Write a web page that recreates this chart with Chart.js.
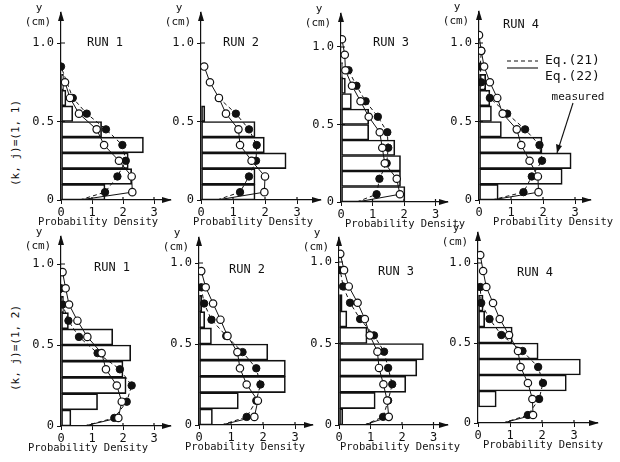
<!DOCTYPE html>
<html>
<head>
<meta charset="utf-8">
<script src="https://cdn.jsdelivr.net/npm/chart.js@4.4.1/dist/chart.umd.min.js"></script>
<style>
  body { margin: 0; background: #fff; }
  #wrap { position: relative; width: 620px; height: 462px; overflow: hidden; background: #fff; }
  #wrap canvas { position: absolute; }
  .rowlab { position: absolute; font: 11px 'DejaVu Sans Mono', monospace; color: #111;
            white-space: nowrap; transform: translate(-50%, -50%) rotate(-90deg); }
</style>
</head>
<body>
<div id="wrap"></div>
<script>
// valeurs (8 panneaux : 4 runs x 2 lignes)
const runNames = ['RUN 1', 'RUN 2', 'RUN 3', 'RUN 4', 'RUN 1', 'RUN 2', 'RUN 3', 'RUN 4'];
const rowLabels = ['(k, j)=(1, 1)', '(k, j)=(1, 2)'];
const xTicks = [0, 1, 2, 3];
const yTicks = [0, 0.5, 1.0];

// centres des classes de l'histogramme mesuré (cm)
const binMid = [0.05, 0.15, 0.25, 0.35, 0.45, 0.55, 0.65, 0.75, 0.85];
const measured = [
  [1.42, 2.28, 2.17, 2.66, 1.31, 0.38, 0.16, 0.08],
  [1.69, 1.69, 2.66, 1.98, 1.69, 0.12],
  [2.03, 1.89, 1.89, 1.71, 0.88, 0.88, 0.33, 0.14, 0.05],
  [0.60, 2.60, 2.88, 1.97, 0.70, 0.39, 0.34, 0.21],
  [0.32, 1.18, 2.10, 2.00, 2.25, 1.67, 0.24, 0.08],
  [0.42, 1.23, 2.70, 2.70, 2.15, 0.39, 0.18, 0.09],
  [0.12, 1.15, 2.12, 2.47, 2.68, 0.89, 0.25, 0.10],
  [0.00, 0.57, 2.76, 3.20, 1.88, 1.07, 0.21, 0.16]
];

// Eq.(21) : cercles pleins, tirets
const eq21Y = [
  [0.05, 0.15, 0.25, 0.35, 0.45, 0.55, 0.65, 0.85],
  [0.05, 0.15, 0.25, 0.35, 0.45, 0.55, 0.65],
  [0.05, 0.15, 0.25, 0.35, 0.45, 0.55, 0.65, 0.75, 0.85],
  [0.05, 0.15, 0.25, 0.35, 0.45, 0.55, 0.65, 0.75, 0.85, 0.95],
  [0.05, 0.15, 0.25, 0.35, 0.45, 0.55, 0.65, 0.75, 0.85],
  [0.05, 0.15, 0.25, 0.35, 0.45, 0.55, 0.65, 0.75, 0.85],
  [0.05, 0.15, 0.25, 0.35, 0.45, 0.55, 0.65, 0.75, 0.85, 0.95],
  [0.05, 0.15, 0.25, 0.35, 0.45, 0.55, 0.65, 0.75, 0.85]
];
const eq21X = [
  [1.42, 1.82, 2.09, 1.98, 1.45, 0.83, 0.38, 0.00],
  [1.22, 1.50, 1.72, 1.74, 1.50, 1.09, 0.56],
  [1.13, 1.22, 1.45, 1.50, 1.47, 1.17, 0.78, 0.49, 0.24],
  [1.39, 1.65, 1.97, 1.89, 1.44, 0.88, 0.34, 0.07, 0.04, 0.07],
  [1.72, 2.12, 2.28, 1.90, 1.18, 0.58, 0.24, 0.05, 0.00],
  [1.49, 1.79, 1.92, 1.79, 1.36, 0.85, 0.39, 0.16, 0.07],
  [1.40, 1.56, 1.69, 1.56, 1.43, 1.11, 0.67, 0.35, 0.13, 0.04],
  [1.56, 1.91, 2.03, 1.88, 1.39, 0.73, 0.36, 0.10, 0.07]
];

// Eq.(22) : cercles vides, trait plein
const eq22Y = [
  [0.05, 0.15, 0.25, 0.35, 0.45, 0.55, 0.65, 0.75],
  [0.05, 0.15, 0.25, 0.35, 0.45, 0.55, 0.65, 0.75, 0.85],
  [0.05, 0.15, 0.25, 0.35, 0.45, 0.55, 0.65, 0.75, 0.85, 0.95, 1.05],
  [0.05, 0.15, 0.25, 0.35, 0.45, 0.55, 0.65, 0.75, 0.85, 0.95, 1.05],
  [0.05, 0.15, 0.25, 0.35, 0.45, 0.55, 0.65, 0.75, 0.85, 0.95],
  [0.05, 0.15, 0.25, 0.35, 0.45, 0.55, 0.65, 0.75, 0.85, 0.95],
  [0.05, 0.15, 0.25, 0.35, 0.45, 0.55, 0.65, 0.75, 0.85, 0.95, 1.05],
  [0.05, 0.15, 0.25, 0.35, 0.45, 0.55, 0.65, 0.75, 0.85, 0.95, 1.05]
];
const eq22X = [
  [2.30, 2.28, 1.87, 1.39, 1.15, 0.58, 0.29, 0.13],
  [1.98, 2.00, 1.58, 1.22, 1.17, 0.78, 0.56, 0.28, 0.10],
  [1.87, 1.77, 1.39, 1.31, 1.23, 0.88, 0.62, 0.35, 0.14, 0.12, 0.03],
  [1.86, 1.84, 1.58, 1.32, 1.18, 0.74, 0.57, 0.34, 0.16, 0.07, 0.00],
  [1.85, 1.96, 1.80, 1.45, 1.31, 0.85, 0.53, 0.26, 0.15, 0.05],
  [1.73, 1.84, 1.49, 1.28, 1.20, 0.89, 0.67, 0.44, 0.21, 0.07],
  [1.58, 1.53, 1.41, 1.27, 1.22, 0.98, 0.82, 0.59, 0.31, 0.16, 0.04],
  [1.72, 1.70, 1.56, 1.33, 1.25, 0.97, 0.68, 0.47, 0.26, 0.16, 0.07]
];
// point où les deux courbes rejoignent la paroi (y = 0)
const wallX = [0.6, 0.5, 0.5, 0.4, 0.75, 0.7, 0.8, 0.78];

// mise en page (pixels de la page) : origine, échelles, bout des flèches, textes
const AXIS_W = 50, PAD_TOP = 12, AXIS_H = 34;
const panels = [
  { ox: 61,  oy: 200, sx: 31,   sy: 157, top: 13,  tip: 170, right: 200, run: [105, 43],  pd: 98 },
  { ox: 201, oy: 200, sx: 32,   sy: 157, top: 13,  tip: 320, right: 340, run: [241, 43],  pd: 253 },
  { ox: 341, oy: 202, sx: 31.5, sy: 155, top: 14,  tip: 447, right: 475, run: [391, 43],  pd: 405 },
  { ox: 479, oy: 200, sx: 32,   sy: 157, top: 12,  tip: 590, right: 620, run: [521, 25],  pd: 553, legend: true },
  { ox: 61,  oy: 426, sx: 31,   sy: 162, top: 237, tip: 170, right: 200, run: [112, 268], pd: 88 },
  { ox: 199, oy: 425, sx: 32,   sy: 162, top: 238, tip: 312, right: 340, run: [247, 270], pd: 245 },
  { ox: 339, oy: 425, sx: 31.5, sy: 163, top: 238, tip: 447, right: 475, run: [396, 272], pd: 400 },
  { ox: 478, oy: 423, sx: 32,   sy: 160, top: 233, tip: 597, right: 620, run: [535, 273], pd: 543 }
];

const INK = '#111';
const FONT = "'DejaVu Sans Mono', monospace";
Chart.defaults.font.family = FONT;
Chart.defaults.color = INK;

// textes, flèches des axes et légende
const decoPlugin = {
  id: 'deco',
  afterDraw(chart, args, opts) {
    const p = opts.panel;
    const ctx = chart.ctx;
    const { left, top, right, bottom } = chart.chartArea;
    const offX = p.ox - AXIS_W, offY = p.top - PAD_TOP;
    ctx.save();
    ctx.fillStyle = INK;
    ctx.strokeStyle = INK;
    ctx.lineWidth = 1.2;

    // pointes de flèches
    ctx.beginPath();
    ctx.moveTo(left, top - 2); ctx.lineTo(left - 3, top + 8); ctx.lineTo(left + 3, top + 8); ctx.closePath();
    ctx.fill();
    ctx.beginPath();
    ctx.moveTo(right + 2, bottom); ctx.lineTo(right - 8, bottom - 3); ctx.lineTo(right - 8, bottom + 3); ctx.closePath();
    ctx.fill();

    // petites graduations vers l'intérieur
    const xs = chart.scales.x, ys = chart.scales.y;
    ctx.beginPath();
    xTicks.slice(1).forEach(v => { const px = xs.getPixelForValue(v); ctx.moveTo(px, bottom); ctx.lineTo(px, bottom - 3); });
    yTicks.slice(1).forEach(v => { const py = ys.getPixelForValue(v); ctx.moveTo(left, py); ctx.lineTo(left + 4, py); });
    ctx.stroke();

    ctx.textBaseline = 'middle';
    ctx.textAlign = 'center';
    ctx.font = '11px ' + FONT;
    ctx.fillText('y', left - 22, top - 5);
    ctx.fillText('(cm)', left - 23, top + 9);
    ctx.font = '12px ' + FONT;
    ctx.fillText(opts.run, p.run[0] - offX, p.run[1] - offY);
    ctx.font = '10.5px ' + FONT;
    ctx.fillText('Probability Density', p.pd - offX, p.oy + 22 - offY);

    if (p.legend) {
      ctx.lineWidth = 1.1;
      ctx.setLineDash([4, 3]);
      ctx.beginPath(); ctx.moveTo(507 - offX, 61 - offY); ctx.lineTo(538 - offX, 61 - offY); ctx.stroke();
      ctx.setLineDash([]);
      ctx.beginPath(); ctx.moveTo(507 - offX, 68 - offY); ctx.lineTo(538 - offX, 68 - offY); ctx.stroke();
      ctx.textAlign = 'left';
      ctx.font = '13px ' + FONT;
      ctx.fillText('Eq.(21)', 545 - offX, 61 - offY);
      ctx.fillText('Eq.(22)', 545 - offX, 77 - offY);
      ctx.textAlign = 'center';
      ctx.font = '11px ' + FONT;
      ctx.fillText('measured', 578 - offX, 97 - offY);
      // flèche vers l'histogramme
      const ax = 557 - offX, ay = 153 - offY;
      ctx.beginPath(); ctx.moveTo(573 - offX, 103 - offY); ctx.lineTo(ax, ay); ctx.stroke();
      ctx.beginPath();
      ctx.moveTo(ax, ay); ctx.lineTo(ax - 1, ay - 9); ctx.lineTo(ax + 5, ay - 7); ctx.closePath();
      ctx.fill();
    }
    ctx.restore();
  }
};

const wrap = document.getElementById('wrap');

rowLabels.forEach((txt, r) => {
  const d = document.createElement('div');
  d.className = 'rowlab';
  d.textContent = txt;
  d.style.left = '15px';
  d.style.top = (r === 0 ? 143 : 348) + 'px';
  wrap.appendChild(d);
});

panels.forEach((p, i) => {
  const cv = document.createElement('canvas');
  const cLeft = p.ox - AXIS_W, cTop = p.top - PAD_TOP;
  const w = p.right - cLeft, h = PAD_TOP + (p.oy - p.top) + AXIS_H;
  cv.width = w; cv.height = h;
  cv.style.width = w + 'px'; cv.style.height = h + 'px';
  cv.style.left = cLeft + 'px'; cv.style.top = cTop + 'px';
  wrap.appendChild(cv);

  const hist = measured[i].map((v, k) => ({ x: v, y: binMid[k] }));
  const pts21 = [{ x: wallX[i], y: 0 }].concat(eq21X[i].map((v, k) => ({ x: v, y: eq21Y[i][k] })));
  const pts22 = [{ x: wallX[i], y: 0 }].concat(eq22X[i].map((v, k) => ({ x: v, y: eq22Y[i][k] })));
  const rad = n => [0].concat(new Array(n).fill(3.7));

  new Chart(cv, {
    type: 'line',
    data: {
      datasets: [
        {
          type: 'line', order: 0, data: pts22,
          borderColor: INK, borderWidth: 1, fill: false, tension: 0,
          pointRadius: rad(eq22X[i].length), pointBackgroundColor: '#fff',
          pointBorderColor: INK, pointBorderWidth: 1.2
        },
        {
          type: 'line', order: 1, data: pts21,
          borderColor: INK, borderWidth: 1, borderDash: [4, 3], fill: false, tension: 0,
          pointRadius: rad(eq21X[i].length), pointBackgroundColor: INK,
          pointBorderColor: INK, pointBorderWidth: 1
        },
        {
          type: 'bar', indexAxis: 'y', order: 2, data: hist,
          backgroundColor: 'rgba(255,255,255,0)', borderColor: INK, borderWidth: 1,
          borderSkipped: false, barPercentage: 1, categoryPercentage: 1
        }
      ]
    },
    options: {
      responsive: false,
      animation: false,
      events: [],
      layout: { padding: { top: PAD_TOP, right: p.right - p.tip, left: 0, bottom: 0 } },
      plugins: {
        legend: { display: false },
        tooltip: { enabled: false },
        deco: { panel: p, run: runNames[i] }
      },
      scales: {
        x: {
          type: 'linear', min: 0, max: (p.tip - p.ox) / p.sx, offset: false,
          afterFit: s => { s.height = AXIS_H; },
          afterBuildTicks: s => { s.ticks = xTicks.map(v => ({ value: v })); },
          ticks: { padding: 2, font: { size: 12 }, color: INK, maxRotation: 0, autoSkip: false,
                   callback: v => String(v) },
          grid: { offset: false, drawOnChartArea: false, drawTicks: true, tickLength: 4, color: INK, lineWidth: 1 },
          border: { display: true, color: INK, width: 1.2 }
        },
        y: {
          type: 'linear', min: 0, max: (p.oy - p.top) / p.sy, offset: false,
          afterFit: s => { s.width = AXIS_W; },
          afterBuildTicks: s => { s.ticks = yTicks.map(v => ({ value: v })); },
          ticks: { padding: 3, font: { size: 12 }, color: INK, autoSkip: false,
                   callback: v => v === 0 ? '0' : v.toFixed(1) },
          grid: { offset: false, drawOnChartArea: false, drawTicks: true, tickLength: 4, color: INK, lineWidth: 1 },
          border: { display: true, color: INK, width: 1.2 }
        }
      }
    },
    plugins: [decoPlugin]
  });
});
</script>
</body>
</html>
